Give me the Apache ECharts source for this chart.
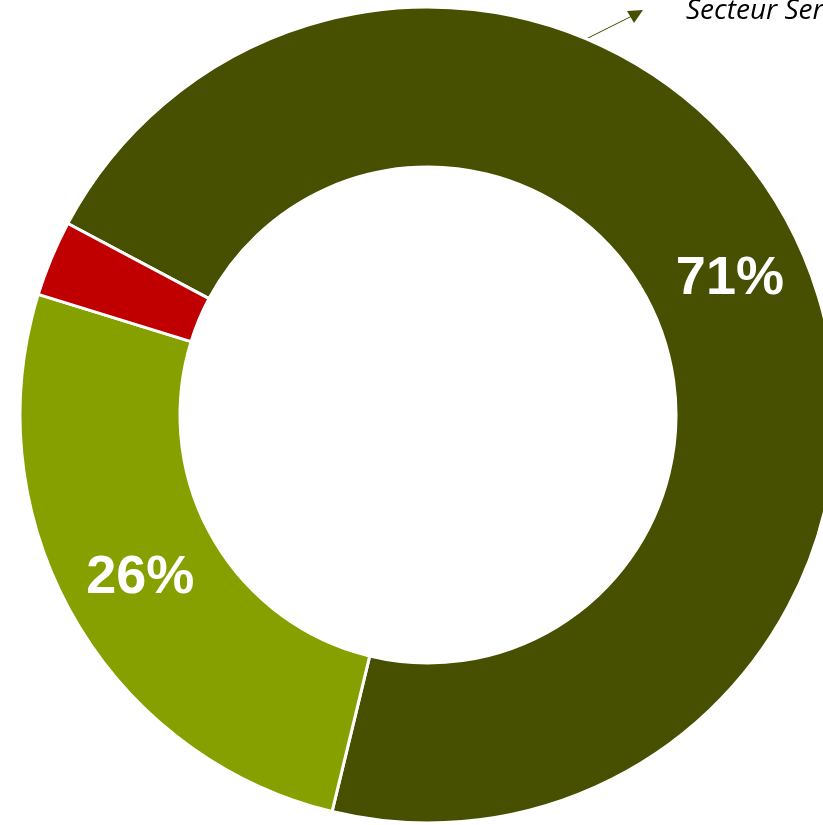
<!DOCTYPE html>
<html>
<head>
<meta charset="utf-8">
<script src="https://cdn.jsdelivr.net/npm/echarts@6/dist/echarts.min.js"></script>
<style>
html, body { margin: 0; padding: 0; background: #fff; }
#chart { width: 823px; height: 825px; }
</style>
</head>
<body>
<div id="chart"></div>
<script>
// secteurs, part en %
const sectors = ['Secteur Services', 'Secteur Industrie', 'Secteur Primaire'];
const shares = [71, 26, 3];
const colors = ['#465000', '#86a000', '#c00000'];

const chart = echarts.init(document.getElementById('chart'));

const pieData = sectors.map((name, i) => ({
	name: name,
	value: shares[i],
	itemStyle: { color: colors[i] },
	label: { show: shares[i] >= 5 }
}));

chart.setOption({
	animation: false,
	series: [{
		type: 'pie',
		center: [428, 415],
		radius: [248, 408],
		startAngle: 152,
		clockwise: true,
		itemStyle: { borderColor: '#fff', borderWidth: 3 },
		label: {
			position: 'inside',
			formatter: p => p.value + '%',
			color: '#fff',
			fontFamily: 'Liberation Sans',
			fontWeight: 'bold',
			fontSize: 54
		},
		labelLine: { show: false },
		emphasis: { disabled: true },
		data: pieData
	}],
	// annotation fléchée vers la légende du secteur services
	graphic: [{
		type: 'line',
		shape: { x1: 586, y1: 39, x2: 632, y2: 16 },
		style: { stroke: '#465000', lineWidth: 1 }
	}, {
		type: 'polygon',
		shape: { points: [[643, 10], [627, 11], [634, 23]] },
		style: { fill: '#465000' }
	}, {
		type: 'text',
		left: 686,
		top: -3,
		style: {
			text: sectors[0],
			font: 'italic 28px "Open Sans"',
			fill: '#000'
		}
	}]
});
</script>
</body>
</html>
